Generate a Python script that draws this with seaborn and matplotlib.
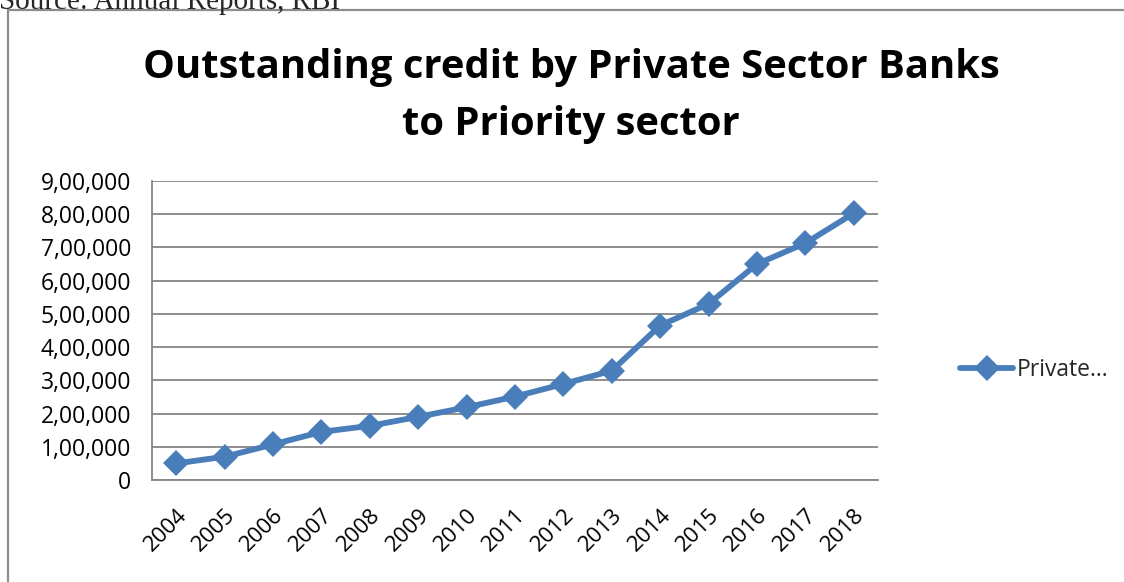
import matplotlib
matplotlib.use("Agg")
import matplotlib.pyplot as plt
from matplotlib.ticker import FuncFormatter, FixedLocator
from matplotlib.lines import Line2D
from matplotlib.patches import Rectangle
import seaborn as sns
import pandas as pd

years = ["2004", "2005", "2006", "2007", "2008", "2009", "2010", "2011",
         "2012", "2013", "2014", "2015", "2016", "2017", "2018"]
credit = [50000, 70000, 107000, 145000, 163000, 190000, 219000, 251000,
          289000, 329000, 465000, 530000, 650000, 713000, 803000]
y_ticks = [0, 100000, 200000, 300000, 400000, 500000, 600000, 700000, 800000, 900000]
series_label = "Private…"
title_lines = ["Outstanding credit by Private Sector Banks", "to Priority sector"]
source_note = "Source: Annual Reports, RBI"

df = pd.DataFrame({"year": years, "credit": credit})

sns.set_theme(style="white")
plt.rcParams["font.family"] = ["Open Sans", "DejaVu Sans"]

W, H = 1124, 582
fig = plt.figure(figsize=(W / 100, H / 100), dpi=100)
ax = fig.add_axes([152 / W, 1 - 480 / H, (878 - 152) / W, (480 - 181) / H])

blue = "#4a7ebb"
grey = "#868686"

sns.lineplot(data=df, x="year", y="credit", ax=ax, color=blue, linewidth=4.2,
             marker="D", markersize=13, markeredgewidth=0, sort=False)


def indian(v, _pos=None):
    v = int(round(v))
    if v == 0:
        return "0"
    s = str(v)
    last3, rest = s[-3:], s[:-3]
    parts = []
    while len(rest) > 2:
        parts.insert(0, rest[-2:])
        rest = rest[:-2]
    if rest:
        parts.insert(0, rest)
    return ",".join(parts + [last3])


ax.set_ylim(0, 900000)
ax.set_xlim(-0.5, len(years) - 0.5)
ax.yaxis.set_major_locator(FixedLocator(y_ticks))
ax.yaxis.set_major_formatter(FuncFormatter(indian))
ax.yaxis.grid(True, color=grey, linewidth=1.3)
ax.set_axisbelow(True)

ax.set_xticks(range(len(years)))
ax.set_xticklabels(years, rotation=45, ha="right", va="top", rotation_mode="anchor")
ax.set_xticks([i - 0.5 for i in range(len(years) + 1)], minor=True)
ax.tick_params(axis="x", which="major", length=0, pad=18, labelsize=16, colors="black")
ax.tick_params(axis="x", which="minor", length=7, width=1.3, color=grey, direction="out")
ax.tick_params(axis="y", which="major", length=7, width=1.3, color=grey, direction="out",
               labelsize=16.5, pad=8, labelcolor="black")

for side in ("top", "right"):
    ax.spines[side].set_visible(False)
for side in ("left", "bottom"):
    ax.spines[side].set_color(grey)
    ax.spines[side].set_linewidth(1.3)

ax.set_xlabel("")
ax.set_ylabel("")

handle = Line2D([], [], color=blue, linewidth=4.2, marker="D", markersize=13,
                markeredgewidth=0)
fig.legend([handle], [series_label], loc="center left",
           bbox_to_anchor=(949 / W, 1 - 370 / H), frameon=False,
           fontsize=16.5, handlelength=2.3, handletextpad=0.15, borderpad=0)

fig.text(571 / W, 1 - 78 / H, title_lines[0], ha="center", va="baseline",
         fontsize=28.8, fontweight="bold", color="black")
fig.text(571 / W, 1 - 135 / H, title_lines[1], ha="center", va="baseline",
         fontsize=28.8, fontweight="bold", color="black")

fig.patches.append(Rectangle((8 / W, -0.05), 1.2, 1 - 10 / H + 0.05,
                             transform=fig.transFigure, fill=False,
                             edgecolor="#8c8c8c", linewidth=1.6))
fig.text(-1 / W, 1 - 9 / H, source_note, ha="left", va="baseline",
         fontsize=21, family=["Liberation Serif", "DejaVu Serif"])

fig.savefig("out.png", dpi=100)
